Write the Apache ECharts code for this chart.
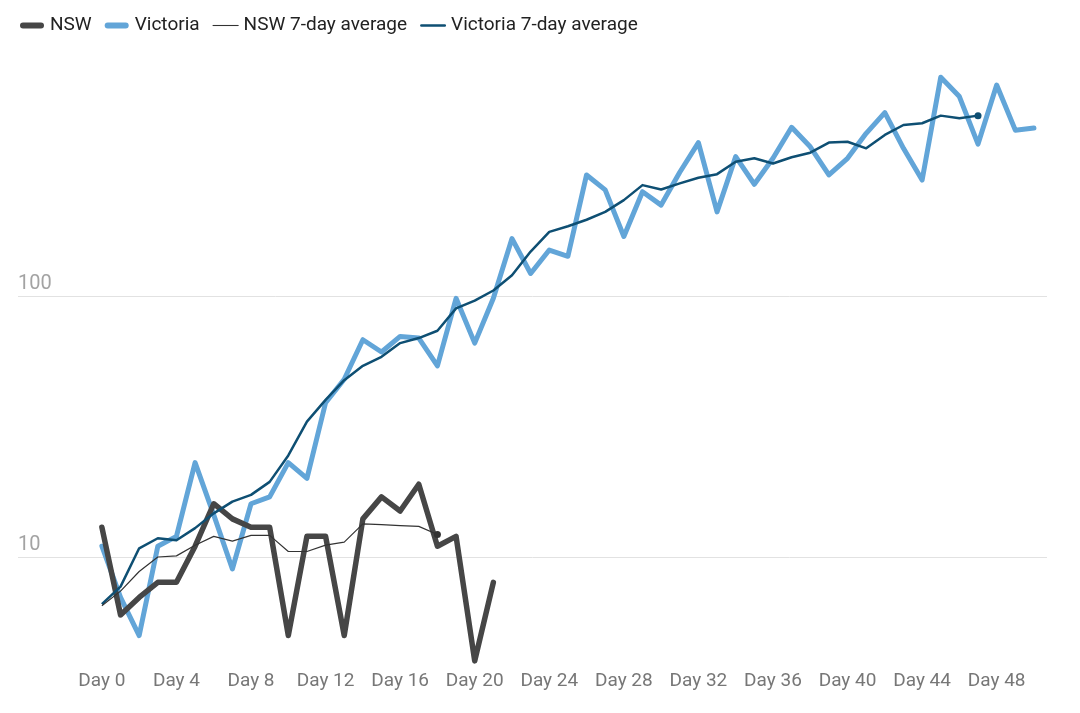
<!DOCTYPE html>
<html>
<head>
<meta charset="utf-8">
<title>NSW vs Victoria daily cases</title>
<script src="https://cdn.jsdelivr.net/npm/echarts@6/dist/echarts.min.js"></script>
<style>
  html, body { margin: 0; padding: 0; background: #fff; }
  #chart { width: 1080px; height: 713px; }
</style>
</head>
<body>
<div id="chart"></div>
<script>
// daily new cases, index = day number
const nsw = [13, 6, 7, 8, 8, 11, 16, 14, 13, 13, 5, 12, 12, 5, 14, 17, 15, 19, 11, 12, 4, 8];
const victoria = [11, 7, 5, 11, 12, 23, 14.5, 9, 16, 17, 23, 20, 39, 48, 68, 61, 70, 69, 54, 98,
  66, 98, 166, 122, 150, 142, 291, 255, 169, 251, 223, 298, 387, 210, 342, 268, 337, 443, 373, 291,
  337, 420, 504, 368, 278, 689, 581, 382, 643, 432, 440];
const nswAvg = [6.5, 7.4, 8.8, 10.0, 10.1, 11.1, 12.0, 11.5, 12.1, 12.1, 10.5, 10.5, 11.1, 11.4,
  13.4, 13.3, 13.2, 13.1, 12.2];
const victoriaAvg = [6.6, 7.7, 10.8, 11.8, 11.6, 12.9, 14.7, 16.3, 17.3, 19.4, 24.5, 33, 40, 47.6,
  54, 58.5, 66, 69, 73.6, 89.7, 96, 105, 120, 148, 176, 185, 196, 210, 233, 266, 256, 270, 284, 293,
  327, 337, 322, 340, 354, 387, 390, 368, 414, 452, 459, 491, 480, 491];
const dayTicks = [0, 4, 8, 12, 16, 20, 24, 28, 32, 36, 40, 44, 48];

const seriesNames = ['NSW', 'Victoria', 'NSW 7-day average', 'Victoria 7-day average'];

const toPairs = arr => arr.map((v, i) => [i, v]);
const lastDot = arr => (val, params) => (params.dataIndex === arr.length - 1 ? 7 : 0);

const pill = 'path://M3,0 H21 A3,3 0 0 1 21,6 H3 A3,3 0 0 1 3,0 Z';

const chart = echarts.init(document.getElementById('chart'));
chart.setOption({
  animation: false,
  textStyle: { fontFamily: 'Roboto' },
  legend: {
    left: 15,
    top: 11,
    itemWidth: 26,
    itemHeight: 6,
    itemGap: 13,
    textStyle: { fontSize: 19, color: '#222' },
    data: [
      { name: 'NSW', icon: pill },
      { name: 'Victoria', icon: pill },
      { name: 'NSW 7-day average', icon: 'path://M0,0 H24 V1 H0 Z' },
      { name: 'Victoria 7-day average', icon: 'path://M1.25,0 H22.75 A1.25,1.25 0 0 1 22.75,2.5 H1.25 A1.25,1.25 0 0 1 1.25,0 Z' }
    ]
  },
  grid: { left: 18, right: 33, top: 35, bottom: 48 },
  xAxis: {
    type: 'value',
    min: -4.5,
    max: 50.7,
    axisLine: { show: false },
    axisTick: { show: false },
    splitLine: { show: false },
    axisLabel: {
      customValues: dayTicks,
      formatter: 'Day {value}',
      fontSize: 19,
      color: '#777',
      margin: 7
    }
  },
  yAxis: {
    type: 'log',
    logBase: 10,
    min: 3.857,
    max: 1000,
    axisLine: { show: false },
    axisTick: { show: false },
    axisLabel: {
      inside: true,
      margin: 0,
      showMinLabel: false,
      showMaxLabel: false,
      verticalAlign: 'bottom',
      padding: [0, 0, 2, 0],
      fontSize: 20,
      color: '#a3a3a3'
    },
    splitLine: {
      showMinLine: false,
      showMaxLine: false,
      lineStyle: { color: '#e2e2e2', width: 1 }
    }
  },
  series: [
    {
      name: seriesNames[1],
      type: 'line',
      data: toPairs(victoria),
      symbol: 'none',
      color: '#62a5d8',
      lineStyle: { width: 5, color: '#62a5d8', cap: 'round', join: 'round' }
    },
    {
      name: seriesNames[0],
      type: 'line',
      data: toPairs(nsw),
      symbol: 'none',
      color: '#464646',
      lineStyle: { width: 5.5, color: '#464646', cap: 'round', join: 'round' }
    },
    {
      name: seriesNames[3],
      type: 'line',
      data: toPairs(victoriaAvg),
      symbol: 'circle',
      symbolSize: lastDot(victoriaAvg),
      color: '#0e4f73',
      itemStyle: { color: '#0e4f73' },
      lineStyle: { width: 2.5, color: '#0e4f73', join: 'round' }
    },
    {
      name: seriesNames[2],
      type: 'line',
      data: toPairs(nswAvg),
      symbol: 'circle',
      symbolSize: lastDot(nswAvg),
      color: '#333',
      itemStyle: { color: '#333' },
      lineStyle: { width: 1.2, color: '#333' }
    }
  ]
});
</script>
</body>
</html>
